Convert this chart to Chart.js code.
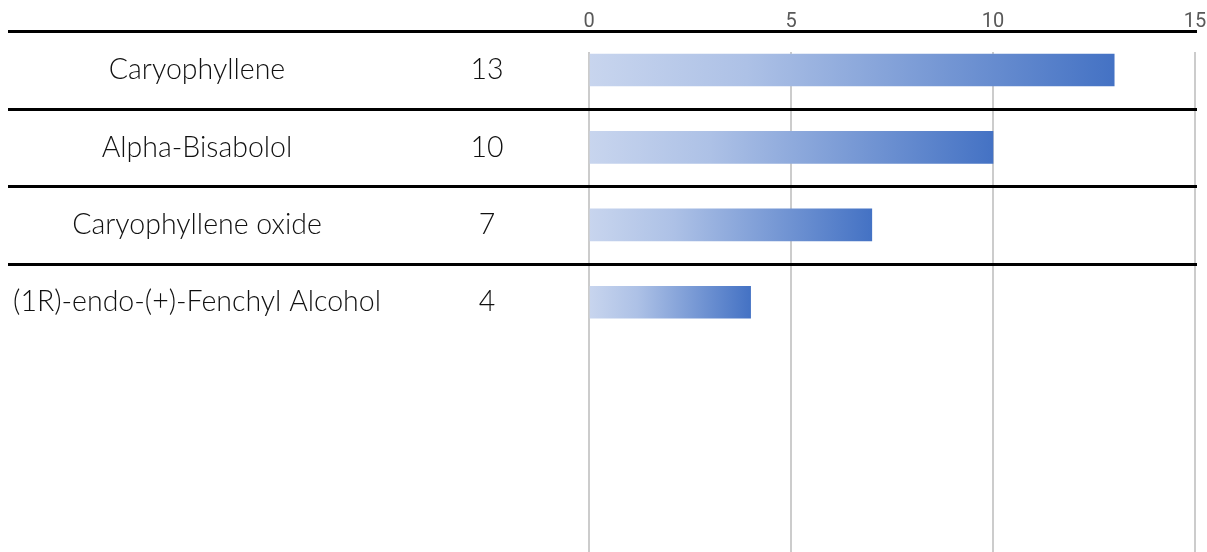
<!DOCTYPE html>
<html>
<head>
<meta charset="utf-8">
<script src="https://cdn.jsdelivr.net/npm/chart.js@4.4.1/dist/chart.umd.min.js"></script>
<style>
  html, body { margin: 0; padding: 0; background: #ffffff; }
  #wrap { width: 1207px; height: 552px; position: relative; }
</style>
</head>
<body>
<div id="wrap"><canvas id="c" width="1207" height="552"></canvas></div>
<script>
const categories = ['Caryophyllene', 'Alpha-Bisabolol', 'Caryophyllene oxide', '(1R)-endo-(+)-Fenchyl Alcohol'];
const values = [13, 10, 7, 4];
const xTicks = [0, 5, 10, 15];

const labelFont = '300 28.5px Lato, "Open Sans", sans-serif';

const rowPlugin = {
  id: 'rows',
  afterDraw(chart) {
    const ctx = chart.ctx;
    const ys = chart.scales.y;
    ctx.save();
    ctx.strokeStyle = '#000000';
    ctx.lineWidth = 3;
    for (let i = 0; i < categories.length; i++) {
      const py = Math.round(ys.getPixelForValue(i - 0.5)) + 0.5;
      ctx.beginPath();
      ctx.moveTo(8, py);
      ctx.lineTo(1197, py);
      ctx.stroke();
    }
    ctx.fillStyle = '#111111';
    ctx.font = labelFont;
    ctx.textAlign = 'center';
    ctx.textBaseline = 'middle';
    categories.forEach((c, i) => {
      const py = ys.getPixelForValue(i);
      ctx.fillText(c, 197, py);
      ctx.fillText(String(values[i]), 487, py);
    });
    ctx.restore();
  }
};

function barGradient(context) {
  const chart = context.chart;
  const xs = chart.scales.x;
  if (context.type !== 'data' || !xs) return '#4472c4';
  const v = values[context.dataIndex];
  const x0 = xs.getPixelForValue(0);
  const x1 = xs.getPixelForValue(v);
  if (!isFinite(x0) || !isFinite(x1) || x1 <= x0) return '#4472c4';
  const g = chart.ctx.createLinearGradient(x0, 0, x1, 0);
  g.addColorStop(0, '#c8d5ee');
  g.addColorStop(0.3, '#adc1e6');
  g.addColorStop(1, '#4472c4');
  return g;
}

new Chart(document.getElementById('c'), {
  type: 'bar',
  data: {
    datasets: [{
      data: categories.map((c, i) => ({ x: values[i], y: i })),
      backgroundColor: barGradient,
      borderWidth: 0,
      barThickness: 32
    }]
  },
  options: {
    indexAxis: 'y',
    responsive: false,
    animation: false,
    layout: { padding: { left: 589, right: 12, top: 0, bottom: 0 } },
    plugins: { legend: { display: false }, tooltip: { enabled: false } },
    scales: {
      x: {
        type: 'linear',
        position: 'top',
        min: 0,
        max: 15,
        afterBuildTicks(scale) { scale.ticks = xTicks.map(v => ({ value: v })); },
        afterFit(scale) { scale.height = 52; scale.paddingLeft = 0; scale.paddingRight = 0; },
        grid: { color: '#cccccc', lineWidth: 2, drawTicks: false },
        border: { display: false },
        ticks: {
          color: '#595959',
          padding: 18,
          font: { family: 'Roboto, "Liberation Sans", sans-serif', size: 20 },
          maxRotation: 0
        }
      },
      y: {
        type: 'linear',
        min: -0.2326,
        max: 6.227,
        reverse: true,
        offset: false,
        display: false
      }
    }
  },
  plugins: [rowPlugin]
});
</script>
</body>
</html>
